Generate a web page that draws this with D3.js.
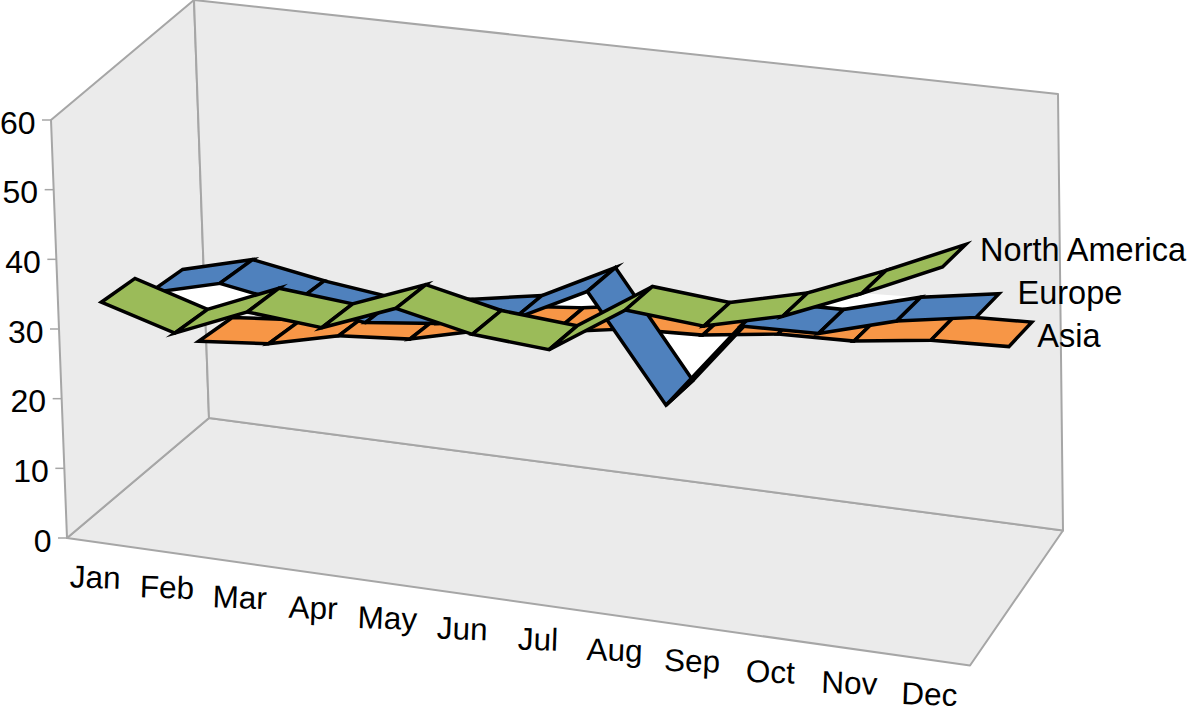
<!DOCTYPE html>
<html>
<head>
<meta charset="utf-8">
<script src="https://cdnjs.cloudflare.com/ajax/libs/d3/7.9.0/d3.min.js"></script>
<style>
  html, body { margin: 0; padding: 0; background: #fff; overflow: hidden; }
  svg text { font-family: "Liberation Sans", Arial, sans-serif; fill: #000; }
</style>
</head>
<body>
<svg id="chart" width="1200" height="707"></svg>
<script>
const months = ["Jan", "Feb", "Mar", "Apr", "May", "Jun", "Jul", "Aug", "Sep", "Oct", "Nov", "Dec"];
const seriesNames = ["North America", "Europe", "Asia"];
const valueTicks = [0, 10, 20, 30, 40, 50, 60];

const northAmerica = [33.6, 30.4, 34.6, 33.6, 37.5, 35.1, 34.2, 40.8, 39.8, 42.3, 46.5, 51.1];
const europe = [29.2, 31.8, 30.0, 28.7, 29.8, 31.6, 36.7, 22.3, 34.4, 34.6, 37.5, 39.2];
const asia = [16.6, 17.5, 19.9, 20.7, 23.2, 24.2, 25.9, 26.3, 27.7, 28.0, 29.4, 29.8];

const svg = d3.select("#chart");

// corners of the 3D box on screen: depth (front/back), side (left/right), level (floor/top)
const box = {
    front: { left: { floor: [67, 538], top: [51, 120] }, right: { floor: [970, 665.5], top: [962, 207.5] } },
    back: { left: { floor: [209, 418], top: [194, 0] }, right: { floor: [1063, 530.5], top: [1058, 94] } }
};

const lerp = (a, b, t) => [a[0] + (b[0] - a[0]) * t, a[1] + (b[1] - a[1]) * t];

// months get a bit wider towards the right, like the perspective of the original
const monthPos = d3.scalePoint().domain(months).range([0, 1]);
const monthU = d3.scaleLinear().domain([0, 1]).range([0.04, 0.972]);
const uOf = m => {
    const s = monthPos(m);
    return monthU(s / (s + 1.06 * (1 - s)));
};
const valueV = d3.scaleLinear().domain([0, 60]).range([0, 1]);
const depthW = d3.scaleBand().domain(seriesNames).range([0, 1]).paddingInner(0.28).paddingOuter(0.15);

function boxPoint(u, v, w) {
    const corner = (d, s) => lerp(box[d][s].floor, box[d][s].top, v);
    const front = lerp(corner("front", "left"), corner("front", "right"), u);
    const back = lerp(corner("back", "left"), corner("back", "right"), u);
    return lerp(front, back, w);
}

const project = (m, value, w) => boxPoint(uOf(m), valueV(value), w);
const poly = pts => "M" + pts.map(p => p.map(n => n.toFixed(1)).join(",")).join("L") + "Z";

// walls
const wallFill = "#ebebeb", wallLine = "#a6a6a6";
const walls = [
    [[0, 0, 0], [1, 0, 0], [1, 0, 1], [0, 0, 1]],
    [[0, 0, 0], [0, 1, 0], [0, 1, 1], [0, 0, 1]],
    [[0, 0, 1], [1, 0, 1], [1, 1, 1], [0, 1, 1]]
];
svg.append("g").selectAll("path")
    .data(walls)
    .join("path")
    .attr("d", d => poly(d.map(c => boxPoint(c[0], c[1], c[2]))))
    .attr("fill", wallFill)
    .attr("stroke", wallLine)
    .attr("stroke-width", 2)
    .attr("stroke-linejoin", "round");

// value ticks and labels on the left edge
const yAxis = svg.append("g");
valueTicks.forEach(t => {
    const p = boxPoint(0, valueV(t), 0);
    yAxis.append("line")
        .attr("x1", p[0] - 9).attr("x2", p[0])
        .attr("y1", p[1]).attr("y2", p[1])
        .attr("stroke", wallLine).attr("stroke-width", 1.5);
    yAxis.append("text")
        .attr("transform", `translate(${p[0] - 15.5},${p[1] + 13.5})`)
        .attr("text-anchor", "end")
        .style("font-size", "32px")
        .text(t);
});

// month labels under the front edge
const xAxis = svg.append("g");
months.forEach(m => {
    const u = uOf(m);
    const p = boxPoint(u, 0, 0);
    xAxis.append("text")
        .attr("transform", `translate(${p[0] - 8 - 8 * u},${p[1] + 45 - 2 * u}) rotate(2)`)
        .attr("text-anchor", "middle")
        .style("font-size", "31.5px")
        .text(m);
});

const ribbons = {
    "North America": { values: northAmerica, color: "#9bbb59", dx: 26, dy: -6 },
    "Europe": { values: europe, color: "#4f81bd", dx: 30, dy: -13 },
    "Asia": { values: asia, color: "#f79646", dx: 17, dy: 2 }
};

// back edge of a ribbon sits slightly lower than the front edge
const backDrop = 0.7;
const frontPoint = (name, i) => project(months[i], ribbons[name].values[i], depthW(name));
const backPoint = (name, i) => project(months[i], ribbons[name].values[i] - backDrop, depthW(name) + depthW.bandwidth());

// enclosed gaps between the ribbons show up white in the original
const f = frontPoint, b = backPoint;
const gaps = [
    [f("Europe", 0), f("Europe", 1), f("Europe", 2), b("North America", 1), b("North America", 0)],
    [f("Europe", 5), f("Europe", 6), b("Asia", 6), b("Asia", 5)],
    [b("Europe", 7), f("Europe", 8), f("Asia", 7), f("Asia", 6)],
    [f("North America", 9), f("North America", 10), b("Europe", 10), b("Europe", 9)]
];
svg.append("g").selectAll("path")
    .data(gaps)
    .join("path")
    .attr("d", poly)
    .attr("fill", "#fff");

// ribbons, back series first
seriesNames.slice().reverse().forEach(name => {
    const r = ribbons[name];
    const g = svg.append("g");
    d3.pairs(d3.range(months.length)).forEach(([i, j]) => {
        g.append("path")
            .attr("d", poly([frontPoint(name, i), frontPoint(name, j), backPoint(name, j), backPoint(name, i)]))
            .attr("fill", r.color)
            .attr("stroke", "#000")
            .attr("stroke-width", 3.5)
            .attr("stroke-linejoin", "miter")
            .attr("stroke-miterlimit", 6);
    });

    const last = months.length - 1;
    const end = lerp(frontPoint(name, last), backPoint(name, last), 0.5);
    svg.append("text")
        .attr("transform", `translate(${end[0] + r.dx},${end[1] + r.dy + 11})`)
        .style("font-size", "32.5px")
        .text(name);
});
</script>
</body>
</html>
